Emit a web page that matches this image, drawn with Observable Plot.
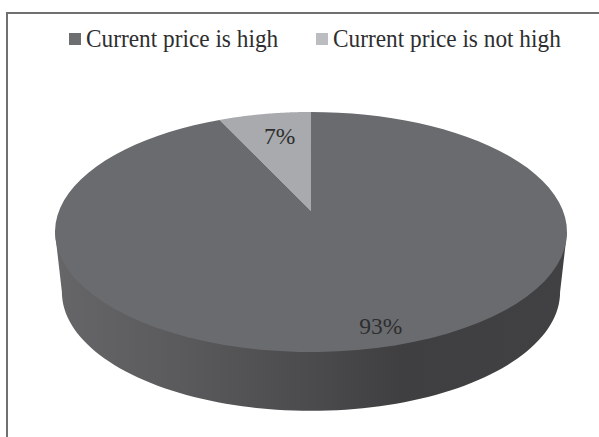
<!DOCTYPE html>
<html>
<head>
<meta charset="utf-8">
<script src="https://cdn.jsdelivr.net/npm/d3@7"></script>
<script src="https://cdn.jsdelivr.net/npm/@observablehq/plot@0.6"></script>
<style>
  html, body { margin: 0; padding: 0; background: #fff; overflow: hidden; }
  #stage { position: relative; width: 599px; height: 437px; overflow: hidden; font-family: "Liberation Serif", serif; color: #2e2e30; }
  #frame { position: absolute; left: 6px; top: 12px; width: 800px; height: 800px; border: 2px solid #707070; box-sizing: border-box; }
  #chart { position: absolute; left: 0; top: 0; }
  #chart svg { display: block; background: transparent; }
  #legend { position: absolute; top: 24px; left: 69px; font-size: 25px; line-height: 30px; white-space: nowrap; }
  .swatch { position: absolute; left: 0; top: 9px; width: 12px; height: 12px; }
  .name { position: absolute; left: 17px; top: 0; display: inline-block; transform: scaleX(0.932); transform-origin: left center; }
  .item { position: absolute; top: 0; }
</style>
</head>
<body>
<div id="stage"><div id="frame"></div><div id="chart"></div><div id="legend"></div></div>
<script>
// Chart data
const categories = ["Current price is not high", "Current price is high"];
const shares = [7, 93];
const sliceColors = ["#a9aaad", "#6a6b6e"];
const legendOrder = ["Current price is high", "Current price is not high"];
const legendColors = ["#6d6e70", "#bcbdc0"];
const legendOffsets = [0, 247];

// Shading of the rim, left to right
const rimStops = [[0, "#666668"], [0.25, "#5a5a5c"], [0.5, "#4b4b4d"], [0.68, "#3f3f41"], [1, "#414143"]];

// Pie geometry in unit-circle coordinates
const apex = 0.175;        // the slices meet above the ellipse centre
const rim = {cy: -0.5, rx: 0.973, ry: 0.99};
const steps = 90;

function rayToCircle(theta) {
  const dx = Math.sin(theta), dy = Math.cos(theta);
  const b = apex * dy;
  const s = -b + Math.sqrt(b * b - (apex * apex - 1));
  return [s * dx, apex + s * dy];
}

const total = d3.sum(shares);
let acc = 0;
const slices = categories.map((name, i) => {
  const a0 = (1 - (acc + shares[i]) / total) * 2 * Math.PI;
  const a1 = (1 - acc / total) * 2 * Math.PI;
  acc += shares[i];
  return {name, share: shares[i], a0, a1};
});

const wedgeRows = slices.flatMap(s => d3.range(steps + 1).map(k => {
  const [u, v] = rayToCircle(s.a0 + (s.a1 - s.a0) * k / steps);
  return {name: s.name, u, v};
}));

// Rim band: starts on the top ellipse's diameter so the face fully covers its upper edge
const sideRows = d3.range(steps + 1).map(k => {
  const t = Math.PI * k / steps;
  return {
    u1: -Math.cos(t), v1: 0,
    u2: -rim.rx * Math.cos(t), v2: rim.cy - rim.ry * Math.sin(t)
  };
});

// Label placement relative to each slice's middle direction
const labelReach = [[0.57, 0.64], [1.24, 0.98]];
const labelRows = slices.map((s, i) => {
  const mid = (s.a0 + s.a1) / 2;
  return {
    text: s.share + "%",
    u: labelReach[i][0] * Math.sin(mid),
    v: apex + labelReach[i][1] * Math.cos(mid)
  };
});

const sideGradient = () => {
  const defs = d3.create("svg:defs");
  const g = defs.append("linearGradient").attr("id", "side-shade");
  rimStops.forEach(([o, c]) => g.append("stop").attr("offset", o).attr("stop-color", c));
  return defs.node();
};

const chart = Plot.plot({
  width: 599,
  height: 437,
  margin: 0,
  x: {domain: [-1.2148, 1.125], range: [0, 599], axis: null},
  y: {domain: [-1.708, 1.933], range: [437, 0], axis: null},
  color: {domain: categories, range: sliceColors},
  style: {background: "transparent"},
  marks: [
    sideGradient,
    Plot.area(sideRows, {x1: "u1", y1: "v1", x2: "u2", y2: "v2", fill: "url(#side-shade)"}),
    Plot.area(wedgeRows, {
      x1: () => 0, y1: () => apex, x2: "u", y2: "v",
      z: "name", fill: "name"
    }),
    Plot.text(labelRows, {
      x: "u", y: "v", text: "text",
      fontSize: 23.5, fontFamily: "Liberation Serif, serif", fill: "#2e2e30"
    })
  ]
});
document.getElementById("chart").append(chart);

const legend = document.getElementById("legend");
legendOrder.forEach((name, i) => {
  const item = document.createElement("div");
  item.className = "item";
  item.style.left = legendOffsets[i] + "px";
  const sw = document.createElement("span");
  sw.className = "swatch";
  sw.style.background = legendColors[i];
  const label = document.createElement("span");
  label.className = "name";
  label.textContent = name;
  item.append(sw, label);
  legend.append(item);
});
</script>
</body>
</html>
